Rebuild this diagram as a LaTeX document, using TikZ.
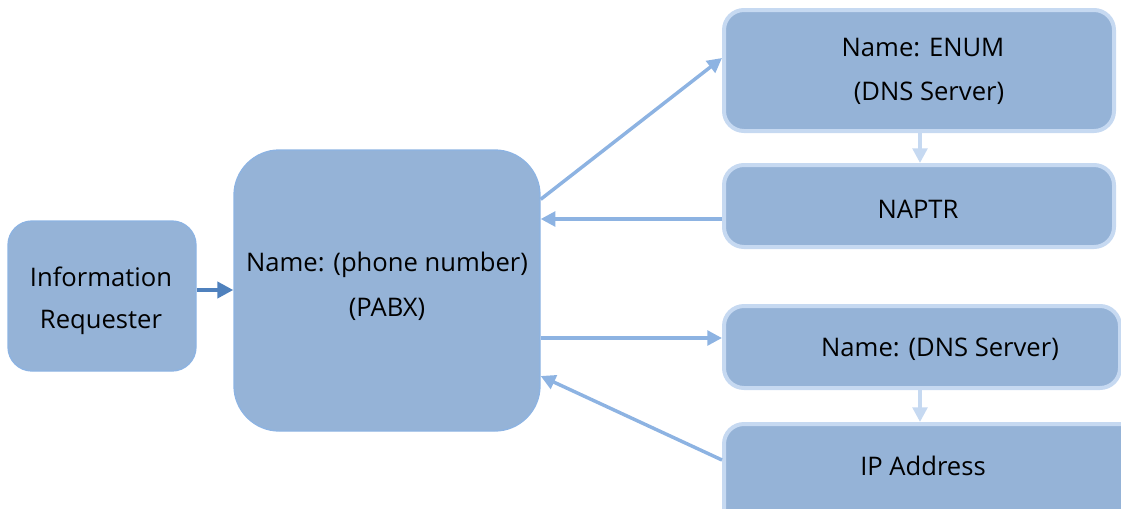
\documentclass[tikz,border=0pt]{standalone}
\usepackage{fontspec}
\setmainfont{Open Sans}
\usetikzlibrary{arrows.meta}
\definecolor{boxfill}{HTML}{95B3D7}
\definecolor{lightedge}{HTML}{C6D9F1}
\definecolor{midedge}{HTML}{8DB3E2}
\definecolor{darkarrow}{HTML}{4F81BD}
\tikzset{
  mainbox/.style={draw=midedge, line width=1pt, fill=boxfill, rounded corners=#1, inner sep=0pt},
  sidebox/.style={draw=lightedge, line width=3pt, fill=boxfill, rounded corners=15pt, inner sep=0pt},
  lbl/.style={font=\fontsize{19.2}{22}\selectfont, inner sep=0pt, anchor=center},
  lnk/.style={draw=midedge, line width=2.6pt, -{Triangle[length=11pt,width=11pt]}},
  dnlink/.style={draw=lightedge, line width=2.6pt, -{Triangle[length=11pt,width=11pt]}},
  inlink/.style={draw=darkarrow, line width=3pt, -{Triangle[length=12pt,width=12pt]}}
}
\begin{document}
\begin{tikzpicture}[x=0.75pt,y=-0.75pt]
\useasboundingbox (0,0) rectangle (1121,508);
\clip (0,0) rectangle (1121,508);
% boxes
\node[mainbox=18pt, minimum width=188*0.75pt, minimum height=150*0.75pt] (req) at (102,296) {};
\node[lbl] (req1) at (101,277) {Information};
\node[lbl] (req2) at (101,322) {Requester};
\node[mainbox=34pt, minimum width=306*0.75pt, minimum height=281*0.75pt] (pabx) at (387,290.5) {};
\node[lbl] (pabx1) at (387,265) {Name: (phone number)};
\node[lbl] (pabx2) at (387,309) {(PABX)};
\node[sidebox, minimum width=390*0.75pt, minimum height=121*0.75pt] (enum) at (919,70.5) {};
\node[lbl] (enum1) at (923,48) {Name: ENUM};
\node[lbl] (enum2) at (929,93) {(DNS Server)};
\node[sidebox, minimum width=390*0.75pt, minimum height=82*0.75pt] (naptr) at (919,206) {};
\node[lbl] (naptr1) at (918,209) {NAPTR};
\node[sidebox, minimum width=396*0.75pt, minimum height=82*0.75pt] (dns) at (922,347) {};
\node[lbl] (dns1) at (940,349) {Name: (DNS Server)};
\node[sidebox, minimum width=420*0.75pt, minimum height=110*0.75pt] (ip) at (934,479) {};
\node[lbl] (ip1) at (923,466) {IP Address};
% connectors
\draw[inlink] (req.east |- 0,290) -- (pabx.west |- 0,290);
\draw[lnk] ([yshift=-37.5pt]pabx.north east) -- ([yshift=-37.5pt]enum.north west);
\draw[lnk] (naptr.west |- 0,219) -- (pabx.east |- 0,219);
\draw[lnk] (pabx.east |- 0,338) -- (dns.west |- 0,338);
\draw[lnk] (ip.west |- 0,460) -- (pabx.east |- 0,376);
\draw[dnlink] (enum.south -| 920,0) -- (naptr.north -| 920,0);
\draw[dnlink] (dns.south -| 920,0) -- (ip.north -| 920,0);
\end{tikzpicture}
\end{document}
